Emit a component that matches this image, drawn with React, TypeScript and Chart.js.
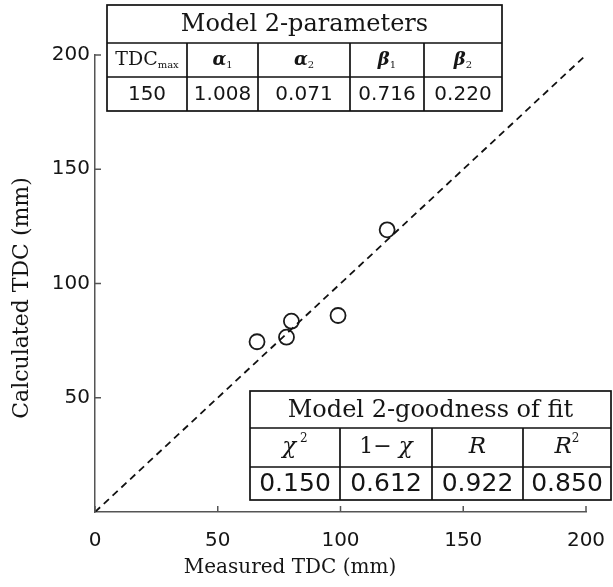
import React, { useEffect, useRef } from "react";
import { Chart, registerables } from "chart.js";

Chart.register(...registerables);

// ---- data ----
const measuredTDC = [66, 78, 80, 99, 119];
const calculatedTDC = [74.5, 76.5, 83.5, 86, 123.5];
const identityX = [0, 200];
const identityY = [0, 200];
const xTickValues = [0, 50, 100, 150, 200];
const yTickValues = [50, 100, 150, 200];

const xTitle = "Measured TDC (mm)";
const yTitle = "Calculated TDC (mm)";

const paramTitle = "Model 2-parameters";
const paramNames = ["TDC", "α", "α", "β", "β"];
const paramSubs = ["max", "1", "2", "1", "2"];
const paramValues = ["150", "1.008", "0.071", "0.716", "0.220"];

const fitTitle = "Model 2-goodness of fit";
const fitNames = ["χ", "1− ", "R", "R"];
const fitItalic = ["", "χ", "", ""];
const fitSups = [" 2", "", "", "2"];
const fitValues = ["0.150", "0.612", "0.922", "0.850"];

const SERIF = "'DejaVu Serif', serif";
const SANS = "'DejaVu Sans', sans-serif";
const INK = "#151515";

type Part = { t: string; f: string; dy?: number };

function drawParts(ctx: CanvasRenderingContext2D, parts: Part[], cx: number, cy: number) {
  let total = 0;
  for (const p of parts) {
    ctx.font = p.f;
    total += ctx.measureText(p.t).width;
  }
  let x = cx - total / 2;
  ctx.textAlign = "left";
  ctx.textBaseline = "middle";
  for (const p of parts) {
    ctx.font = p.f;
    ctx.fillText(p.t, x, cy + (p.dy || 0));
    x += ctx.measureText(p.t).width;
  }
}

function drawTable(
  ctx: CanvasRenderingContext2D,
  cols: number[],
  rows: number[],
  title: string,
  titleFont: string,
  headers: Part[][],
  values: string[],
  valueFont: string
) {
  const left = cols[0];
  const right = cols[cols.length - 1];
  const top = rows[0];
  const bottom = rows[rows.length - 1];
  ctx.save();
  ctx.fillStyle = "#fff";
  ctx.fillRect(left, top, right - left, bottom - top);
  ctx.strokeStyle = "#111";
  ctx.lineWidth = 1.7;
  ctx.strokeRect(left, top, right - left, bottom - top);
  ctx.beginPath();
  ctx.moveTo(left, rows[1]);
  ctx.lineTo(right, rows[1]);
  ctx.moveTo(left, rows[2]);
  ctx.lineTo(right, rows[2]);
  for (let i = 1; i < cols.length - 1; i++) {
    ctx.moveTo(cols[i], rows[1]);
    ctx.lineTo(cols[i], bottom);
  }
  ctx.stroke();
  ctx.fillStyle = INK;
  drawParts(ctx, [{ t: title, f: titleFont }], (left + right) / 2, (rows[0] + rows[1]) / 2 + 1);
  for (let i = 0; i < cols.length - 1; i++) {
    const cx = (cols[i] + cols[i + 1]) / 2;
    drawParts(ctx, headers[i], cx, (rows[1] + rows[2]) / 2);
    drawParts(ctx, [{ t: values[i], f: valueFont }], cx, (rows[2] + rows[3]) / 2 + 1);
  }
  ctx.restore();
}

const overlay = {
  id: "overlay",
  afterDraw(chart: any) {
    const ctx: CanvasRenderingContext2D = chart.ctx;
    const xs = chart.scales.x;
    const ys = chart.scales.y;
    const area = chart.chartArea;
    ctx.save();
    ctx.strokeStyle = "#555";
    ctx.lineWidth = 1.5;
    ctx.beginPath();
    for (const v of xTickValues) {
      const px = xs.getPixelForValue(v);
      ctx.moveTo(px, area.bottom);
      ctx.lineTo(px, area.bottom - 6);
    }
    for (const v of yTickValues) {
      const py = ys.getPixelForValue(v);
      ctx.moveTo(area.left, py);
      ctx.lineTo(area.left + 6, py);
    }
    ctx.stroke();

    ctx.fillStyle = INK;
    ctx.font = `20px ${SERIF}`;
    ctx.textAlign = "center";
    ctx.textBaseline = "middle";
    ctx.fillText(xTitle, 290, 568);
    ctx.save();
    ctx.translate(22, 298);
    ctx.rotate(-Math.PI / 2);
    ctx.font = `22px ${SERIF}`;
    ctx.fillText(yTitle, 0, 0);
    ctx.restore();
    ctx.restore();

    const paramHeaders: Part[][] = paramNames.map((n, i) =>
      i === 0
        ? [
            { t: n, f: `19px ${SERIF}` },
            { t: paramSubs[i], f: `10px ${SERIF}`, dy: 5 },
          ]
        : [
            { t: n, f: `italic bold 18px ${SERIF}` },
            { t: paramSubs[i], f: `10px ${SERIF}`, dy: 5 },
          ]
    );
    drawTable(
      ctx,
      [107, 187, 258, 350, 424, 502],
      [5, 43, 77, 111],
      paramTitle,
      `24px ${SERIF}`,
      paramHeaders,
      paramValues,
      `20px ${SANS}`
    );

    const fitHeaders: Part[][] = fitNames.map((n, i) => {
      const parts: Part[] = [];
      if (i === 1) {
        parts.push({ t: n, f: `22px ${SERIF}` });
        parts.push({ t: fitItalic[i], f: `italic 23px ${SERIF}` });
      } else {
        parts.push({ t: n, f: `italic 23px ${SERIF}` });
      }
      if (fitSups[i]) parts.push({ t: fitSups[i], f: `12px ${SERIF}`, dy: -9 });
      return parts;
    });
    drawTable(
      ctx,
      [250, 340, 432, 523, 611],
      [391, 428, 467, 500],
      fitTitle,
      `24px ${SERIF}`,
      fitHeaders,
      fitValues,
      `25px ${SANS}`
    );
  },
};

export default function App() {
  const ref = useRef<HTMLCanvasElement | null>(null);
  useEffect(() => {
    if (!ref.current) return;
    const chart = new Chart(ref.current, {
      type: "scatter",
      data: {
        datasets: [
          {
            type: "line",
            data: identityX.map((x, i) => ({ x, y: identityY[i] })),
            borderColor: "#111",
            borderWidth: 1.8,
            borderDash: [7, 5],
            pointRadius: 0,
            fill: false,
          } as any,
          {
            data: measuredTDC.map((x, i) => ({ x, y: calculatedTDC[i] })),
            pointStyle: "circle",
            pointRadius: 7.5,
            pointBorderWidth: 1.8,
            borderColor: "#1a1a1a",
            pointBorderColor: "#1a1a1a",
            backgroundColor: "rgba(0,0,0,0)",
            pointBackgroundColor: "rgba(0,0,0,0)",
            showLine: false,
          } as any,
        ],
      },
      options: {
        responsive: false,
        animation: false,
        layout: { padding: { top: 55, right: 27, left: 0, bottom: 0 } },
        plugins: { legend: { display: false }, tooltip: { enabled: false } },
        scales: {
          x: {
            type: "linear",
            min: 0,
            max: 200,
            afterBuildTicks: (s: any) => {
              s.ticks = xTickValues.map((v) => ({ value: v }));
            },
            grid: { display: false, drawTicks: false },
            border: { display: true, color: "#555", width: 1.5 },
            ticks: {
              font: { family: "DejaVu Sans", size: 20 },
              color: INK,
              padding: 17,
              maxRotation: 0,
              autoSkip: false,
            },
            afterFit: (s: any) => {
              s.height = 75;
              s.paddingLeft = 0;
              s.paddingRight = 0;
            },
          },
          y: {
            type: "linear",
            min: 0,
            max: 200,
            afterBuildTicks: (s: any) => {
              s.ticks = yTickValues.map((v) => ({ value: v }));
            },
            grid: { display: false, drawTicks: false },
            border: { display: true, color: "#555", width: 1.5 },
            ticks: {
              font: { family: "DejaVu Sans", size: 20 },
              color: INK,
              padding: 5,
              autoSkip: false,
            },
            afterFit: (s: any) => {
              s.width = 95;
              s.paddingTop = 0;
              s.paddingBottom = 0;
            },
          },
        },
      } as any,
      plugins: [overlay],
    });
    return () => chart.destroy();
  }, []);
  return (
    <div style={{ position: "fixed", left: 0, top: 0, width: 613, height: 587, background: "#fff" }}>
      <canvas ref={ref} width={613} height={587} style={{ display: "block", width: 613, height: 587 }} />
    </div>
  );
}
